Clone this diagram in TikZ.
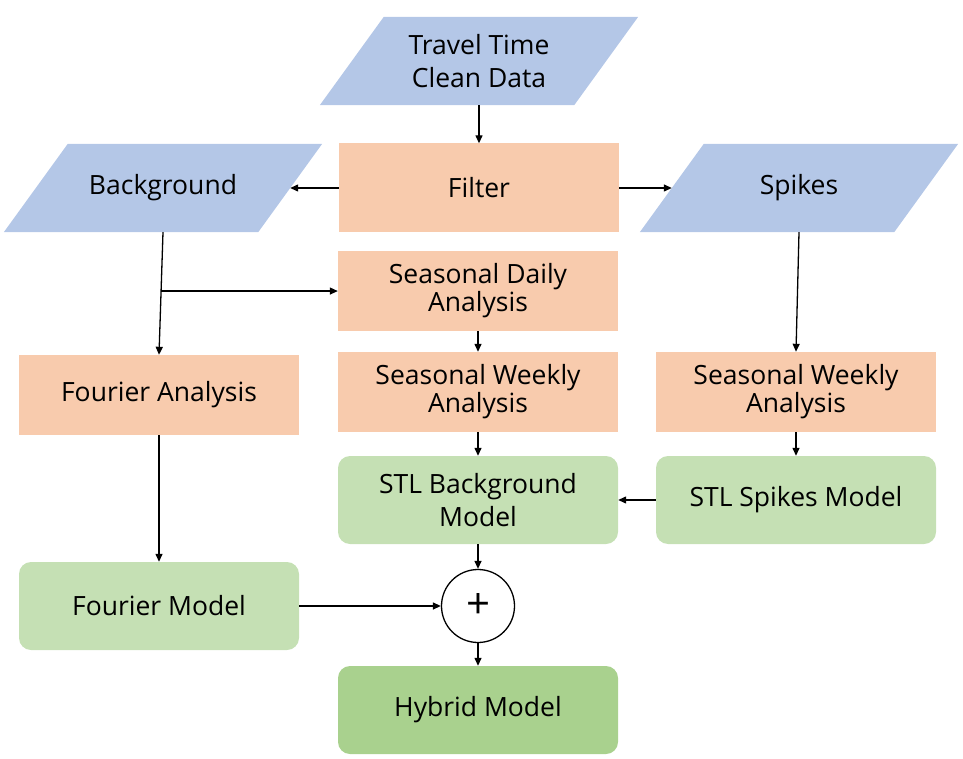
\documentclass[tikz,border=0pt]{standalone}
\usepackage{fontspec}
\setmainfont{Open Sans}
\usetikzlibrary{calc,arrows.meta,backgrounds}
\definecolor{pblue}{HTML}{B4C7E7}
\definecolor{porange}{HTML}{F8CBAD}
\definecolor{pgreen}{HTML}{C5E0B4}
\definecolor{dgreen}{HTML}{A9D18E}
\tikzset{
  txt/.style={font=\fontsize{26.5}{33}\selectfont, align=center, text=black, inner sep=0pt},
  para/.style={txt, minimum width=254pt, minimum height=88pt},
  rbox/.style={txt, font=\fontsize{26.5}{28}\selectfont, fill=porange, minimum width=280pt, minimum height=80pt},
  gbox/.style={txt, fill=pgreen, rounded corners=12pt, minimum width=280pt, minimum height=88pt},
  hbox/.style={gbox, fill=dgreen},
  arr/.style={-{Triangle[length=8pt,width=7pt]}, line width=1.3pt, black}
}
\begin{document}
\begin{tikzpicture}[x=1pt,y=-1pt]
\useasboundingbox (0,0) rectangle (963,759);
\node[para] (tt) at (479,61) {Travel Time\\Clean Data};
\node[para] (bg) at (163,188) {Background};
\node[rbox, minimum height=89pt] (filter) at (479,188) {Filter};
\node[para] (sp) at (799,188) {Spikes};
\node[rbox] (sda) at (478,291) {Seasonal Daily\\Analysis};
\node[rbox] (fa) at (159,395) {Fourier Analysis};
\node[rbox] (swa) at (478,392) {Seasonal Weekly\\Analysis};
\node[rbox] (swb) at (796,392) {Seasonal Weekly\\Analysis};
\node[gbox] (stlb) at (478,500) {STL Background\\Model};
\node[gbox] (stls) at (796,500) {STL Spikes Model};
\node[gbox] (fm) at (159,606) {Fourier Model};
\node[circle, draw, line width=1.3pt, minimum size=73pt, inner sep=0pt, font=\fontsize{42}{44}\selectfont] (plus) at (478,606) {+};
\node[hbox] (hm) at (478,710) {Hybrid Model};
\begin{scope}[on background layer]
\foreach \n in {tt,bg,sp}{
  \fill[pblue] ([xshift=32pt]\n.north west) -- ([xshift=32pt]\n.north east)
    -- ([xshift=-32pt]\n.south east) -- ([xshift=-32pt]\n.south west) -- cycle;
}
\end{scope}
\draw[arr] (tt.south) -- (filter.north);
\draw[arr] (filter.west) -- (bg.east);
\draw[arr] (filter.east) -- (sp.west);
\draw[arr] (bg.south) -- (fa.north);
\coordinate (br) at ($(bg.south)!0.48!(fa.north)$);
\draw[arr] (br) -- (br -| sda.west);
\draw[arr] (sda.south) -- (swa.north);
\draw[arr] (sp.south) -- (swb.north);
\draw[arr] (swa.south) -- (stlb.north);
\draw[arr] (swb.south) -- (stls.north);
\draw[arr] (stls.west) -- (stlb.east);
\draw[arr] (fa.south) -- (fm.north);
\draw[arr] (stlb.south) -- (plus.north);
\draw[arr] (fm.east) -- (plus.west);
\draw[arr] (plus.south) -- (hm.north);
\end{tikzpicture}
\end{document}
